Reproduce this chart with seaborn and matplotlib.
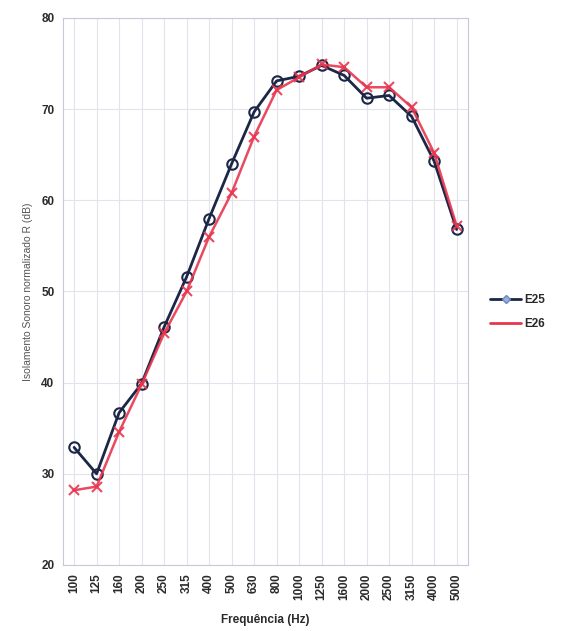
import matplotlib
matplotlib.use("Agg")
import matplotlib.pyplot as plt
import seaborn as sns
import pandas as pd
from matplotlib.lines import Line2D

freqs = ["100", "125", "160", "200", "250", "315", "400", "500", "630", "800",
         "1000", "1250", "1600", "2000", "2500", "3150", "4000", "5000"]
e25 = [32.9, 30.0, 36.7, 39.9, 46.1, 51.6, 58.0, 64.0, 69.7, 73.1,
       73.6, 74.8, 73.7, 71.2, 71.5, 69.2, 64.3, 56.8]
e26 = [28.2, 28.6, 34.6, 39.8, 45.4, 50.0, 56.0, 60.8, 67.0, 72.1,
       73.5, 74.9, 74.6, 72.4, 72.4, 70.2, 65.2, 57.2]

df = pd.DataFrame({"freq": freqs * 2,
                   "R": e25 + e26,
                   "serie": ["E25"] * len(freqs) + ["E26"] * len(freqs)})
df["pos"] = list(range(len(freqs))) * 2

sns.set_style("white")
plt.rcParams["font.family"] = ["Liberation Sans", "DejaVu Sans"]

fig = plt.figure(figsize=(5.61, 6.31), dpi=100)
ax = fig.add_axes([0.112, 0.1046, 0.722, 0.8669])

navy = "#1c2647"
red = "#e8364e"

d26 = df[df.serie == "E26"]
d25 = df[df.serie == "E25"]
sns.lineplot(data=d25, x="pos", y="R", ax=ax, color=navy, lw=2.0,
             marker="o", markersize=7.5, markerfacecolor="none",
             markeredgewidth=1.5, markeredgecolor=navy, legend=False)
sns.lineplot(data=d26, x="pos", y="R", ax=ax, color=red, lw=1.8,
             marker="x", markersize=7, markeredgewidth=1.5,
             markeredgecolor=red, legend=False, alpha=0.9)

ax.set_xlim(-0.5, len(freqs) - 0.5)
ax.set_ylim(20, 80)
ax.set_xticks(range(len(freqs)))
ax.set_xticklabels(freqs, rotation=90, fontsize=8.5, color="#2a2a2a",
                   fontweight="bold")
ax.set_yticks(range(20, 81, 10))
ax.set_yticklabels([str(v) for v in range(20, 81, 10)], fontsize=8.5,
                   color="#2a2a2a", fontweight="bold")
ax.tick_params(axis="both", length=0, pad=6)
ax.grid(True, color="#e3e3ee", lw=0.8)
for s in ax.spines.values():
    s.set_color("#c8c8dc")
    s.set_linewidth(0.8)

ax.set_xlabel("Frequência (Hz)", fontsize=8.5, color="#2a2a2a",
              fontweight="bold", labelpad=10)
ax.set_ylabel("Isolamento Sonoro normalizado R (dB)", fontsize=7.5,
              color="#555555", labelpad=6)

handles = [Line2D([], [], color=navy, lw=2, marker="D", markersize=4,
                  markerfacecolor="#9ab0d8", markeredgecolor="#6a86c0"),
           Line2D([], [], color=red, lw=2)]
leg = fig.legend(handles, ["E25", "E26"], loc="center left",
                 bbox_to_anchor=(0.855, 0.505), frameon=False, fontsize=8.5,
                 handlelength=2.6, handletextpad=0.3, labelspacing=1.0)
for t in leg.get_texts():
    t.set_fontweight("bold")
    t.set_color("#2a2a2a")

fig.savefig("out.png", dpi=100, facecolor="white")
